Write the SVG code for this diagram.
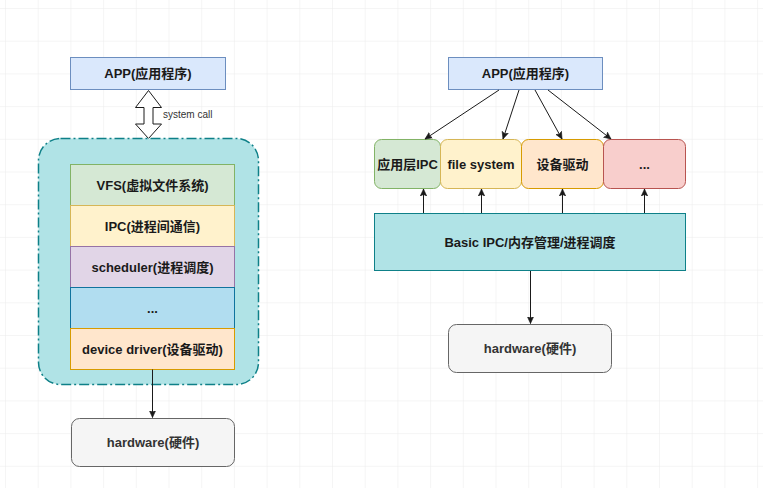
<svg xmlns="http://www.w3.org/2000/svg" width="763" height="488" viewBox="0 0 763 488">
<defs>
  <pattern id="grid" x="5" y="8" width="32.7" height="32.7" patternUnits="userSpaceOnUse">
    <path d="M0 0 H32.7 M0 0 V32.7" fill="none" stroke="#ebebeb" stroke-width="1"/>
  </pattern>
  <marker id="ah" markerWidth="8" markerHeight="8" refX="7" refY="4" orient="auto" markerUnits="userSpaceOnUse">
    <path d="M0,0.8 L7,4 L0,7.2 L1.6,4 Z" fill="#1a1a1a" stroke="#1a1a1a" stroke-width="0.6"/>
  </marker>
</defs>
<style>
  .t { font-family: "Liberation Sans", "Noto Sans CJK SC", sans-serif; font-size: 13px; font-weight: bold; fill: #1a1a1a; text-anchor: middle; }
  .small { font-family: "Liberation Sans", "Noto Sans CJK SC", sans-serif; font-size: 10px; fill: #333; }
  .blue { fill: #dae8fc; stroke: #6c8ebf; }
  .green { fill: #d5e8d4; stroke: #82b366; }
  .yellow { fill: #fff2cc; stroke: #d6b656; }
  .purple { fill: #e1d5e7; stroke: #9673a6; }
  .lblue { fill: #b1ddf0; stroke: #10739e; }
  .orange { fill: #ffe6cc; stroke: #d79b00; }
  .red { fill: #f8cecc; stroke: #b85450; }
  .teal { fill: #b0e3e6; stroke: #0e8088; }
  .grey { fill: #f5f5f5; stroke: #666666; }
  .conn { stroke: #1a1a1a; stroke-width: 1; fill: none; marker-end: url(#ah); }
</style>
<rect width="763" height="488" fill="#ffffff"/>
<rect width="763" height="488" fill="url(#grid)"/>

<!-- Left diagram -->
<g id="left-app">
  <rect class="blue" x="70.5" y="57.5" width="155" height="32"/>
  <text class="t" x="148" y="78">APP(应用程序)</text>
</g>
<g id="syscall-arrow">
  <path d="M148.5,90.5 L161.5,107.5 L153,107.5 L153,124 L161.5,124 L148.5,138.5 L135.5,124 L144,124 L144,107.5 L135.5,107.5 Z" fill="#ffffff" stroke="#1a1a1a" stroke-width="1"/>
  <text class="small" x="163" y="118">system call</text>
</g>
<g id="kernel">
  <rect class="teal" x="38.5" y="138.5" width="220" height="246" rx="22" ry="22" stroke-width="1.5" stroke-dasharray="10,3,2,3"/>
</g>
<g id="vfs">
  <rect class="green" x="70.5" y="164.5" width="164" height="41"/>
  <text class="t" x="152.5" y="189.5">VFS(虚拟文件系统)</text>
</g>
<g id="ipc">
  <rect class="yellow" x="70.5" y="205.5" width="164" height="41"/>
  <text class="t" x="152.5" y="230.5">IPC(进程间通信)</text>
</g>
<g id="scheduler">
  <rect class="purple" x="70.5" y="246.5" width="164" height="41"/>
  <text class="t" x="152.5" y="271.5">scheduler(进程调度)</text>
</g>
<g id="etc-left">
  <rect class="lblue" x="70.5" y="287.5" width="164" height="41"/>
  <text class="t" x="152.5" y="312.5">...</text>
</g>
<g id="driver">
  <rect class="orange" x="70.5" y="328.5" width="164" height="41"/>
  <text class="t" x="152.5" y="353.5">device driver(设备驱动)</text>
</g>
<g id="left-hw">
  <rect class="grey" x="71.5" y="418.5" width="163" height="48" rx="8" ry="8"/>
  <text class="t" x="153" y="447" style="fill:#333333">hardware(硬件)</text>
</g>

<!-- Right diagram -->
<g id="right-app">
  <rect class="blue" x="448.5" y="57.5" width="154" height="32"/>
  <text class="t" x="525.5" y="78">APP(应用程序)</text>
</g>
<g id="app-ipc">
  <rect class="green" x="374.5" y="139.5" width="66" height="49" rx="7" ry="7"/>
  <text class="t" x="407.5" y="168.5">应用层IPC</text>
</g>
<g id="fs">
  <rect class="yellow" x="440.5" y="139.5" width="81" height="49" rx="7" ry="7"/>
  <text class="t" x="481" y="168.5">file system</text>
</g>
<g id="dev">
  <rect class="orange" x="521.5" y="139.5" width="82" height="49" rx="7" ry="7"/>
  <text class="t" x="562.5" y="168.5">设备驱动</text>
</g>
<g id="etc-right">
  <rect class="red" x="603.5" y="139.5" width="82" height="49" rx="7" ry="7"/>
  <text class="t" x="644.5" y="168.5">...</text>
</g>
<g id="basic">
  <rect class="teal" x="374.5" y="213.5" width="311" height="57"/>
  <text class="t" x="530" y="246.5">Basic IPC/内存管理/进程调度</text>
</g>
<g id="right-hw">
  <rect class="grey" x="448.5" y="324.5" width="163" height="48" rx="8" ry="8"/>
  <text class="t" x="530" y="353" style="fill:#333333">hardware(硬件)</text>
</g>

<g id="connectors">
  <line class="conn" x1="152.5" y1="369.5" x2="152.5" y2="417.5"/>
  <line class="conn" x1="499" y1="90" x2="425" y2="139"/>
  <line class="conn" x1="519" y1="90" x2="503" y2="139"/>
  <line class="conn" x1="535" y1="90" x2="562" y2="139"/>
  <line class="conn" x1="548" y1="90" x2="611" y2="139"/>
  <line class="conn" x1="423.5" y1="213" x2="423.5" y2="189"/>
  <line class="conn" x1="481.5" y1="213" x2="481.5" y2="189"/>
  <line class="conn" x1="562.5" y1="213" x2="562.5" y2="189"/>
  <line class="conn" x1="644.5" y1="213" x2="644.5" y2="189"/>
  <line class="conn" x1="530.5" y1="271" x2="530.5" y2="323.5"/>
</g>
</svg>
